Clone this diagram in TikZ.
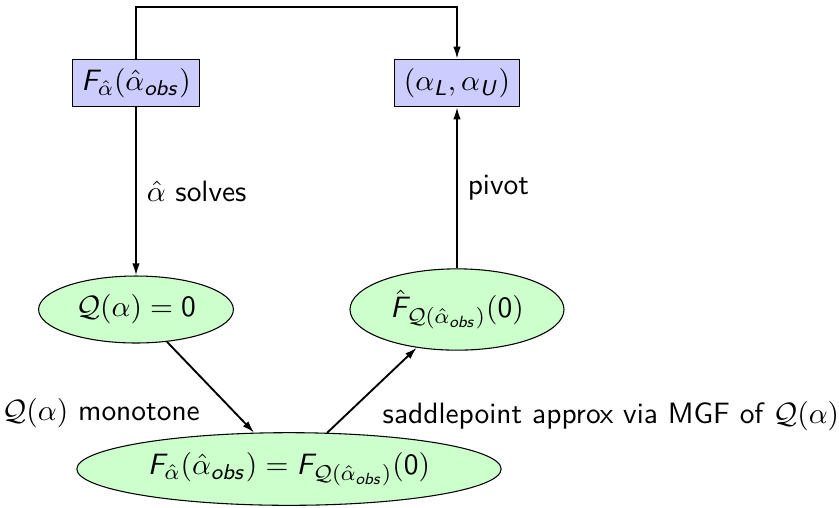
\documentclass[11pt,tikz,border=0pt]{standalone}
\usetikzlibrary{shapes.geometric,arrows.meta}
\renewcommand{\familydefault}{\sfdefault}
\DeclareSymbolFont{sfletters}{OT1}{cmss}{m}{sl}
\DeclareSymbolFont{sfdigits}{OT1}{cmss}{m}{n}
\DeclareMathSymbol{F}{\mathalpha}{sfletters}{`F}
\DeclareMathSymbol{L}{\mathalpha}{sfletters}{`L}
\DeclareMathSymbol{U}{\mathalpha}{sfletters}{`U}
\DeclareMathSymbol{o}{\mathalpha}{sfletters}{`o}
\DeclareMathSymbol{b}{\mathalpha}{sfletters}{`b}
\DeclareMathSymbol{s}{\mathalpha}{sfletters}{`s}
\DeclareMathSymbol{0}{\mathalpha}{sfdigits}{`0}
\begin{document}
\begin{tikzpicture}[x=0.372pt,y=-0.372pt,
  box/.style={draw, fill=blue!20, inner sep=3.333pt},
  oval/.style={ellipse, draw, fill=green!20, inner sep=3.333pt},
  conn/.style={line width=0.7pt, -{Latex[length=4.5pt,width=2.8pt]}}]
\useasboundingbox (0,0) rectangle (839,507);
\node[box] (obs) at (136,83) {$F_{\hat\alpha}(\hat\alpha_{obs})$};
\node[box] (ci) at (457,83) {$(\alpha_L,\alpha_U)$};
\node[oval] (q) at (136,309.5) {$\mathcal{Q}(\alpha)=0$};
\node[oval] (fhat) at (457,309.5) {$\hat F_{\mathcal{Q}(\hat\alpha_{obs})}(0)$};
\node[oval] (eq) at (289,469) {$F_{\hat\alpha}(\hat\alpha_{obs}) = F_{\mathcal{Q}(\hat\alpha_{obs})}(0)$};
\coordinate (top) at (136,7);
\draw[conn] (obs.north) -- (top) -| (ci.north);
\draw[conn] (obs) -- node[right]{$\hat\alpha$ solves} (q);
\draw[conn] (fhat) -- node[right]{pivot} (ci);
\draw[conn] (q) -- node[below left]{$\mathcal{Q}(\alpha)$ monotone} (eq);
\draw[conn] (eq) -- node[below right]{saddlepoint approx via MGF of $\mathcal{Q}(\alpha)$} (fhat);
\end{tikzpicture}
\end{document}
